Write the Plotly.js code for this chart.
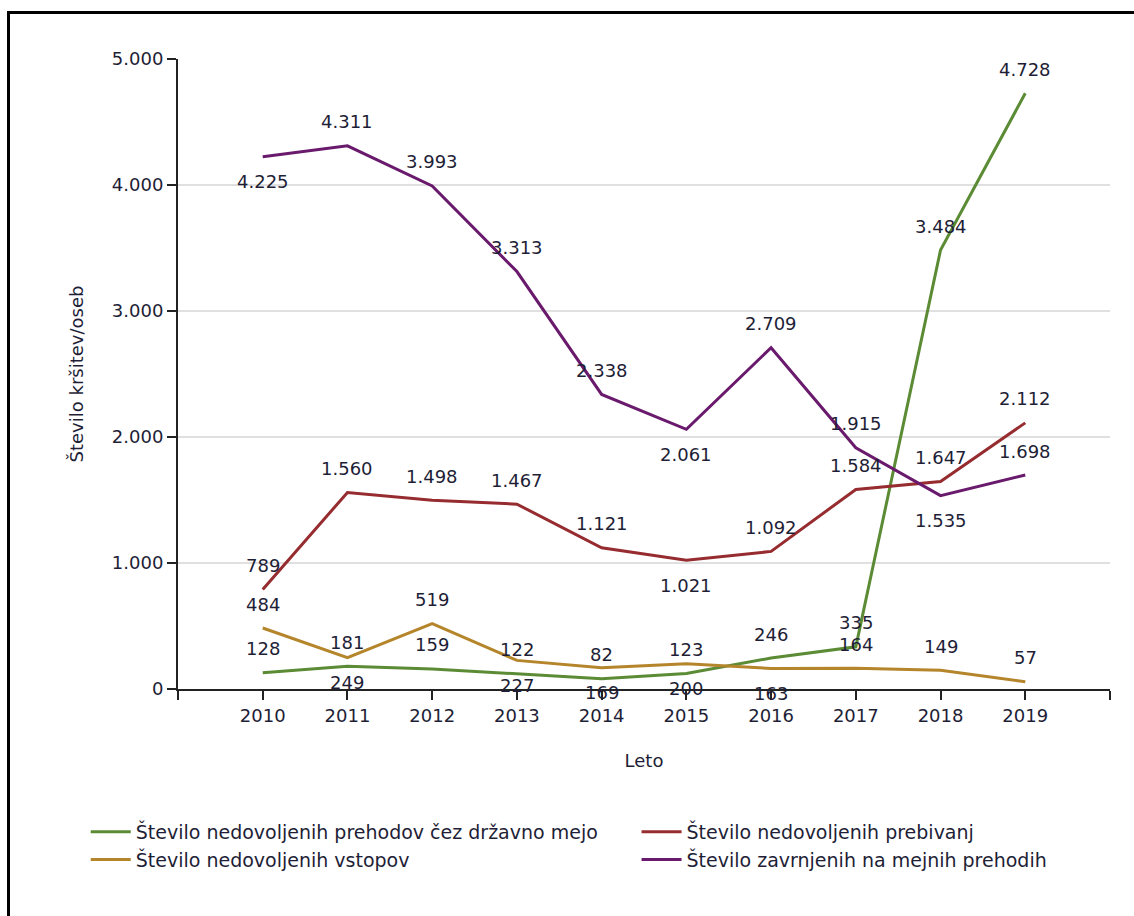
<!DOCTYPE html>
<html>
<head>
<meta charset="utf-8">
<script src="https://cdn.plot.ly/plotly-3.0.1.min.js"></script>
<style>
  html, body { margin: 0; padding: 0; background: #fff; }
  #chart { width: 1134px; height: 916px; }
  #frame { position: absolute; left: 7px; top: 11px; width: 1200px; height: 1000px;
           border-top: 3px solid #000; border-left: 3px solid #000; pointer-events: none; }
</style>
</head>
<body>
<div id="chart"></div>
<div id="frame"></div>
<script>
// ---- data ----
const years = [2010, 2011, 2012, 2013, 2014, 2015, 2016, 2017, 2018, 2019];
const seriesNames = [
  "Število nedovoljenih prehodov čez državno mejo",
  "Število nedovoljenih prebivanj",
  "Število nedovoljenih vstopov",
  "Število zavrnjenih na mejnih prehodih"
];
const prehodi   = [128, 181, 159, 122, 82, 123, 246, 335, 3484, 4728];
const prebivanj = [789, 1560, 1498, 1467, 1121, 1021, 1092, 1584, 1647, 2112];
const vstopi    = [484, 249, 519, 227, 169, 200, 163, 164, 149, 57];
const zavrnjeni = [4225, 4311, 3993, 3313, 2338, 2061, 2709, 1915, 1535, 1698];
const yTicks = [0, 1000, 2000, 3000, 4000, 5000];

// label placement: 1 = above the point, -1 = below
const placePrehodi   = [1, 1, 1, 1, 1, 1, 1, 1, 1, 1];
const placePrebivanj = [1, 1, 1, 1, 1, -1, 1, 1, 1, 1];
const placeVstopi    = [1, -1, 1, -1, -1, -1, -1, 1, 1, 1];
const placeZavrnjeni = [-1, 1, 1, 1, 1, -1, 1, 1, -1, 1];

const colors = ["#5b8b34", "#962c2f", "#b5852b", "#6a1a6c"];
const FONT = "DejaVu Sans, Verdana, sans-serif";
const TXT = "#1e1e36";

function fmt(v) { return String(v).replace(/\B(?=(\d{3})+(?!\d))/g, "."); }
function yLabel(v) { return v === 0 ? "0" : fmt(v); }

const series = [
  {name: seriesNames[0], y: prehodi,   place: placePrehodi,   color: colors[0], legend: "legend"},
  {name: seriesNames[1], y: prebivanj, place: placePrebivanj, color: colors[1], legend: "legend2"},
  {name: seriesNames[2], y: vstopi,    place: placeVstopi,    color: colors[2], legend: "legend3"},
  {name: seriesNames[3], y: zavrnjeni, place: placeZavrnjeni, color: colors[3], legend: "legend4"}
];

const traces = series.map(s => ({
  type: "scatter", mode: "lines", x: years, y: s.y, name: s.name,
  line: {color: s.color, width: 3}, legend: s.legend, hoverinfo: "skip"
}));

const annotations = [];
series.forEach(s => {
  s.y.forEach((v, i) => {
    annotations.push({
      x: years[i], y: v, xref: "x", yref: "y", text: fmt(v), showarrow: false,
      yshift: s.place[i] > 0 ? 24 : -25,
      font: {family: FONT, size: 18, color: TXT}
    });
  });
});

const xTickVals = [years[0] - 1].concat(years, [years[years.length - 1] + 1]);
const xTickText = [""].concat(years.map(String), [""]);

function legendAt(x, y) {
  return {
    orientation: "h", x: x, xanchor: "left", y: y, yanchor: "middle",
    itemwidth: 40, font: {family: FONT, size: 19, color: TXT},
    bgcolor: "rgba(0,0,0,0)"
  };
}

const layout = {
  width: 1134, height: 916,
  margin: {l: 178, r: 24, t: 59, b: 227},
  paper_bgcolor: "#fff", plot_bgcolor: "#fff",
  font: {family: FONT, size: 18, color: TXT},
  showlegend: true,
  xaxis: {
    range: [years[0] - 1, years[years.length - 1] + 1],
    tickvals: xTickVals, ticktext: xTickText,
    showgrid: false, zeroline: false,
    showline: true, linecolor: "#222", linewidth: 2,
    ticks: "outside", ticklen: 9, tickwidth: 2, tickcolor: "#222",
    tickfont: {family: FONT, size: 18, color: TXT},
    title: {text: "Leto", standoff: 30, font: {family: FONT, size: 18, color: TXT}}
  },
  yaxis: {
    range: [0, 5000],
    tickvals: yTicks, ticktext: yTicks.map(yLabel),
    showgrid: true, gridcolor: "#e0e0e0", gridwidth: 2,
    zeroline: false,
    showline: true, linecolor: "#222", linewidth: 2,
    ticks: "outside", ticklen: 9, tickwidth: 2, tickcolor: "#222",
    tickfont: {family: FONT, size: 18, color: TXT},
    title: {text: "Število kršitev/oseb", standoff: 24, font: {family: FONT, size: 18, color: TXT}}
  },
  legend:  legendAt(-0.099, -0.227),
  legend2: legendAt(0.492, -0.227),
  legend3: legendAt(-0.099, -0.271),
  legend4: legendAt(0.492, -0.271),
  annotations: annotations
};

Plotly.newPlot("chart", traces, layout, {displayModeBar: false, staticPlot: true});
</script>
</body>
</html>
